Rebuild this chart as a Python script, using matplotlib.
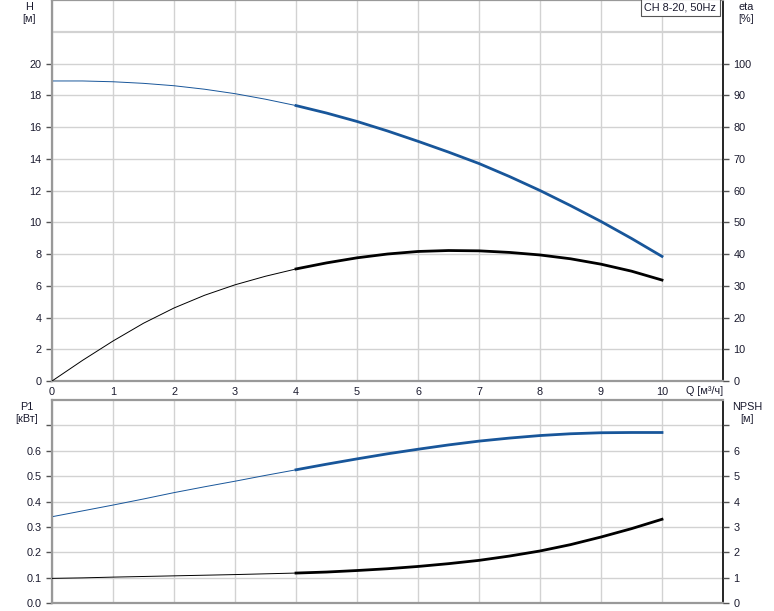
import matplotlib.pyplot as plt

plt.rcParams["font.family"] = ["Liberation Sans", "DejaVu Sans"]

q = [0, 0.5, 1, 1.5, 2, 2.5, 3, 3.5, 4, 4.5, 5, 5.5, 6, 6.5, 7, 7.5, 8, 8.5, 9, 9.5, 10]
h = [18.9, 18.9, 18.85, 18.75, 18.6, 18.38, 18.1, 17.75, 17.35, 16.88, 16.35,
     15.75, 15.1, 14.42, 13.7, 12.88, 12.0, 11.05, 10.05, 8.98, 7.85]
eta = [0, 6.5, 12.6, 18.2, 23, 27, 30.3, 33, 35.3, 37.2, 38.8,
       40, 40.8, 41.1, 41.0, 40.5, 39.7, 38.5, 36.8, 34.6, 31.8]
p1 = [0.34, 0.363, 0.386, 0.41, 0.435, 0.458, 0.48, 0.503, 0.525, 0.547, 0.568,
      0.588, 0.606, 0.623, 0.638, 0.65, 0.66, 0.667, 0.671, 0.672, 0.672]
npsh = [0.97, 0.99, 1.02, 1.045, 1.07, 1.095, 1.12, 1.15, 1.18, 1.22, 1.28,
        1.35, 1.44, 1.55, 1.68, 1.85, 2.05, 2.3, 2.6, 2.93, 3.3]

x_ticks = list(range(0, 11))
h_ticks = list(range(0, 21, 2))
eta_ticks = list(range(0, 101, 10))
p1_ticks = [0.0, 0.1, 0.2, 0.3, 0.4, 0.5, 0.6, 0.7]
p1_labels = ["0.0", "0.1", "0.2", "0.3", "0.4", "0.5", "0.6", ""]
npsh_ticks = list(range(0, 8))
npsh_labels = ["0", "1", "2", "3", "4", "5", "6", ""]

azul = "#18569a"
negro = "#000000"
gris = "#d2d2d2"
txt = "#1a1a2e"
fs = 7.8

fig = plt.figure(figsize=(7.74, 6.11), dpi=100)
ax1 = fig.add_axes([0.0672, 0.3764, 0.8669, 0.6236])
ax2 = fig.add_axes([0.0672, 0.0131, 0.8669, 0.3322])


def estilo(ax):
    ax.set_xlim(0, 11)
    ax.set_xticks(x_ticks)
    ax.grid(True, color=gris, linewidth=1)
    ax.set_axisbelow(True)
    for s in ["left", "top", "bottom"]:
        ax.spines[s].set_color("#999999")
        ax.spines[s].set_linewidth(1.6)
    ax.spines["right"].set_color("black")
    ax.spines["right"].set_linewidth(1.2)
    ax.tick_params(axis="x", length=0, labelsize=fs, colors=txt, pad=4)
    ax.tick_params(axis="y", length=4, width=1, color="#555555", labelsize=fs, labelcolor=txt)


def curva(ax, y, color):
    # tramo fino hasta Q=4, tramo grueso despues
    ax.plot(q[:9], y[:9], color=color, linewidth=0.7)
    ax.plot(q[8:], y[8:], color=color, linewidth=2)


# grafico superior: H y eta
estilo(ax1)
ax1.set_ylim(0, 24)
ax1.set_yticks(h_ticks)
ax1.axhline(22, color=gris, linewidth=1.6, zorder=0)
curva(ax1, h, azul)
ax1t = ax1.twinx()
ax1t.set_ylim(0, 120)
ax1t.set_yticks(eta_ticks)
ax1t.tick_params(axis="y", length=4, width=1, color="#555555", labelsize=fs, labelcolor=txt)
for s in ax1t.spines.values():
    s.set_visible(False)
curva(ax1t, eta, negro)
ax1.text(-0.034, 0.995, "H\n[м]", transform=ax1.transAxes, ha="center", va="top",
         fontsize=fs, color=txt, linespacing=1.2)
ax1.text(1.035, 0.995, "eta\n[%]", transform=ax1.transAxes, ha="center", va="top",
         fontsize=fs, color=txt, linespacing=1.2)
ax1.text(0.99, 0.993, "CH 8-20, 50Hz", transform=ax1.transAxes, ha="right", va="top",
         fontsize=fs, color=txt,
         bbox=dict(boxstyle="square,pad=0.35", facecolor="white", edgecolor="#555555", linewidth=0.8))
ax1.text(10.4, -0.63, "Q [м³/ч]", ha="left", va="center", fontsize=fs, color=txt)

# grafico inferior: P1 y NPSH
estilo(ax2)
ax2.set_ylim(0, 0.8)
ax2.set_yticks(p1_ticks)
ax2.set_yticklabels(p1_labels)
ax2.set_xticklabels([])
curva(ax2, p1, azul)
ax2t = ax2.twinx()
ax2t.set_ylim(0, 8)
ax2t.set_yticks(npsh_ticks)
ax2t.set_yticklabels(npsh_labels)
ax2t.tick_params(axis="y", length=4, width=1, color="#555555", labelsize=fs, labelcolor=txt)
for s in ax2t.spines.values():
    s.set_visible(False)
curva(ax2t, npsh, negro)
ax2.text(-0.038, 0.99, "P1\n[кВт]", transform=ax2.transAxes, ha="center", va="top",
         fontsize=fs, color=txt, linespacing=1.2)
ax2.text(1.036, 0.99, "NPSH\n[м]", transform=ax2.transAxes, ha="center", va="top",
         fontsize=fs, color=txt, linespacing=1.2)

plt.savefig("out.png", dpi=100)
